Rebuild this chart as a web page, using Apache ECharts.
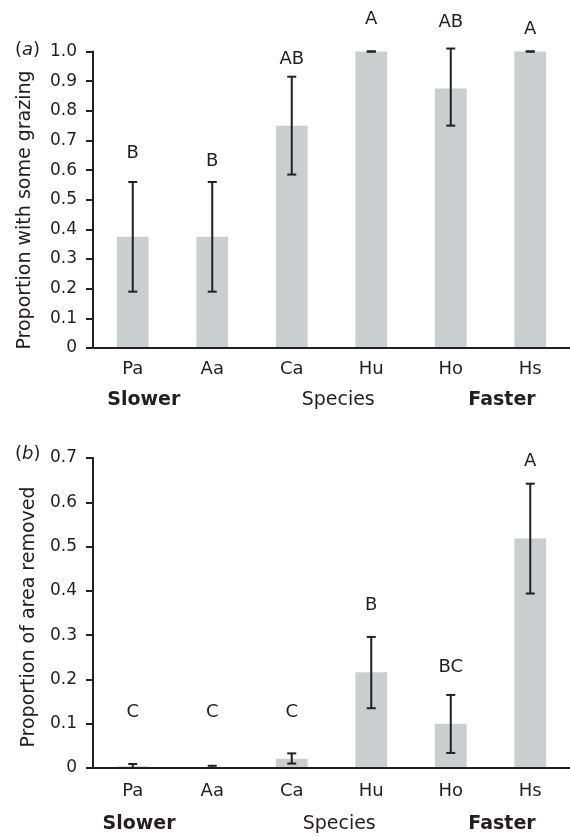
<!DOCTYPE html>
<html>
<head>
<meta charset="utf-8">
<script src="https://cdn.jsdelivr.net/npm/echarts@6/dist/echarts.min.js"></script>
<style>
  html, body { margin: 0; padding: 0; background: #fff; }
  #chart { width: 570px; height: 836px; }
</style>
</head>
<body>
<div id="chart"></div>
<script>
// species, slow -> fast
const species = ['Pa', 'Aa', 'Ca', 'Hu', 'Ho', 'Hs']

// (a) proportion with some grazing
const grazing = [0.375, 0.375, 0.75, 1.0, 0.875, 1.0]
const grazingLow = [0.19, 0.19, 0.585, 1.0, 0.75, 1.0]
const grazingHigh = [0.56, 0.56, 0.915, 1.0, 1.01, 1.0]
const grazingLetters = ['B', 'B', 'AB', 'A', 'AB', 'A']
const grazingLetterY = [0.655, 0.63, 0.975, 1.11, 1.10, 1.075]
const grazingTicks = ['0', '0.1', '0.2', '0.3', '0.4', '0.5', '0.6', '0.7', '0.8', '0.9', '1.0']

// (b) proportion of area removed
const removed = [0.004, 0.002, 0.021, 0.216, 0.100, 0.518]
const removedLow = [0, 0, 0.010, 0.135, 0.034, 0.394]
const removedHigh = [0.009, 0.005, 0.033, 0.296, 0.165, 0.642]
const removedLetters = ['C', 'C', 'C', 'B', 'BC', 'A']
const removedLetterY = [0.125, 0.125, 0.125, 0.367, 0.227, 0.692]
const removedTicks = ['0', '0.1', '0.2', '0.3', '0.4', '0.5', '0.6', '0.7']

const ink = '#231f20'
const barGrey = '#cccdcf'
const font = "'DejaVu Sans', sans-serif"

function errRender(params, api) {
    const x = api.value(0)
    const lo = api.coord([x, api.value(1)])
    const hi = api.coord([x, api.value(2)])
    const hw = 4.5
    const style = { stroke: ink, lineWidth: 2 }
    return {
        type: 'group',
        children: [
            { type: 'line', shape: { x1: lo[0], y1: lo[1], x2: hi[0], y2: hi[1] }, style },
            { type: 'line', shape: { x1: lo[0] - hw, y1: lo[1], x2: lo[0] + hw, y2: lo[1] }, style },
            { type: 'line', shape: { x1: hi[0] - hw, y1: hi[1], x2: hi[0] + hw, y2: hi[1] }, style }
        ]
    }
}

function xAxis(gridIndex, margin) {
    return {
        type: 'category',
        gridIndex: gridIndex,
        data: species,
        z: 10,
        axisLine: { lineStyle: { color: ink, width: 2 } },
        axisTick: { length: 7, lineStyle: { color: ink, width: 2 } },
        axisLabel: { color: ink, fontFamily: font, fontSize: 18, margin: margin },
        splitLine: { show: false }
    }
}

function yAxis(gridIndex, ticks) {
    return {
        type: 'value',
        gridIndex: gridIndex,
        min: Number(ticks[0]),
        max: Number(ticks[ticks.length - 1]),
        interval: 0.1,
        z: 10,
        axisLine: { show: true, lineStyle: { color: ink, width: 2 } },
        axisTick: { show: true, length: 7, lineStyle: { color: ink, width: 2 } },
        axisLabel: {
            color: ink, fontFamily: font, fontSize: 17, margin: 16,
            formatter: v => ticks[Math.round(v * 10)]
        },
        splitLine: { show: false }
    }
}

function letterSeries(idx, ys, letters) {
    return {
        type: 'scatter',
        xAxisIndex: idx,
        yAxisIndex: idx,
        symbolSize: 1,
        itemStyle: { color: '#ffffff', opacity: 1 },
        clip: false,
        silent: true,
        z: 6,
        data: species.map((s, i) => [s, ys[i]]),
        label: {
            show: true,
            position: 'inside',
            color: ink,
            opacity: 1,
            textBorderWidth: 0,
            fontFamily: font,
            fontSize: 18,
            formatter: p => letters[p.dataIndex]
        }
    }
}

function sideText(x, y, text, bold) {
    return {
        type: 'text', x: x, y: y,
        style: {
            text: text, fill: ink, font: (bold ? 'bold ' : '') + '19px ' + font,
            align: 'center', verticalAlign: 'middle'
        }
    }
}

function vertText(x, y, text) {
    return {
        type: 'text', x: x, y: y, rotation: Math.PI / 2,
        style: {
            text: text, fill: ink, font: '19px ' + font,
            align: 'center', verticalAlign: 'middle'
        }
    }
}

function panelTag(x, y, letter) {
    return {
        type: 'text', x: x, y: y,
        style: {
            text: '(' + '{i|' + letter + '})',
            fill: ink, font: '18px ' + font,
            align: 'left', verticalAlign: 'middle',
            rich: { i: { fontStyle: 'italic', fontFamily: font, fontSize: 18, fill: ink } }
        }
    }
}

const chart = echarts.init(document.getElementById('chart'))

chart.setOption({
    backgroundColor: '#fff',
    animation: false,
    grid: [
        { left: 93, top: 51.5, width: 479, height: 296.5 },
        { left: 93, top: 458, width: 479, height: 310 }
    ],
    xAxis: [xAxis(0, 12), xAxis(1, 14)],
    yAxis: [yAxis(0, grazingTicks), yAxis(1, removedTicks)],
    series: [
        {
            type: 'bar', xAxisIndex: 0, yAxisIndex: 0,
            barWidth: '40%', itemStyle: { color: barGrey },
            data: grazing
        },
        {
            type: 'custom', xAxisIndex: 0, yAxisIndex: 0, z: 5,
            renderItem: errRender,
            encode: { x: 0, y: [1, 2] },
            data: species.map((s, i) => [i, grazingLow[i], grazingHigh[i]])
        },
        letterSeries(0, grazingLetterY, grazingLetters),
        {
            type: 'bar', xAxisIndex: 1, yAxisIndex: 1,
            barWidth: '40%', itemStyle: { color: barGrey },
            data: removed
        },
        {
            type: 'custom', xAxisIndex: 1, yAxisIndex: 1, z: 5,
            renderItem: errRender,
            encode: { x: 0, y: [1, 2] },
            data: species.map((s, i) => [i, removedLow[i], removedHigh[i]])
        },
        letterSeries(1, removedLetterY, removedLetters)
    ],
    graphic: [
        panelTag(15, 50, 'a'),
        panelTag(15, 454.5, 'b'),
        vertText(25.3, 210, 'Proportion with some grazing'),
        vertText(29.5, 617, 'Proportion of area removed'),
        sideText(143.8, 400, 'Slower', true),
        sideText(338.2, 400, 'Species', false),
        sideText(502, 400, 'Faster', true),
        sideText(139, 824, 'Slower', true),
        sideText(339.2, 824, 'Species', false),
        sideText(502, 824, 'Faster', true)
    ]
})

window.addEventListener('resize', () => chart.resize())
</script>
</body>
</html>
